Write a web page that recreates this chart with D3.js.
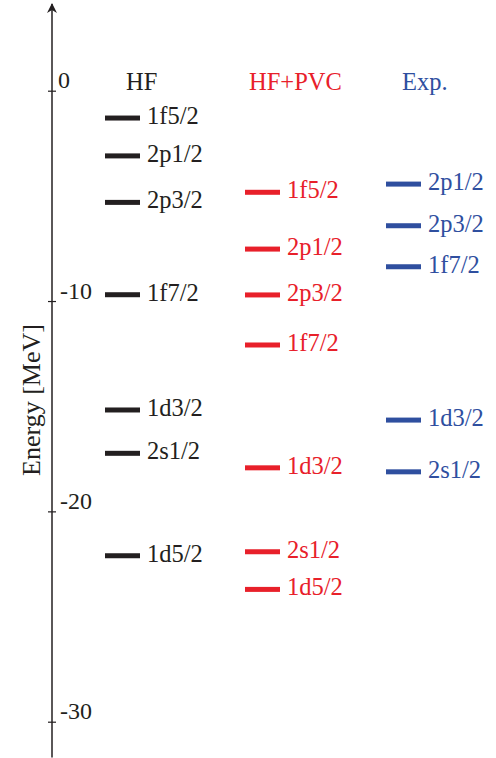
<!DOCTYPE html>
<html><head><meta charset="utf-8">
<script src="https://cdn.jsdelivr.net/npm/d3@7"></script>
<style>html,body{margin:0;padding:0;background:#fff;}svg{display:block;}</style>
</head><body>
<script>
const columns = ["HF", "HF+PVC", "Exp."];
const columnColors = ["#231f20", "#e8202a", "#2f4f9f"];
const hfLevels = ["1f5/2","2p1/2","2p3/2","1f7/2","1d3/2","2s1/2","1d5/2"];
const hfEnergies = [-1.30,-3.10,-5.31,-9.70,-15.18,-17.24,-22.11];
const pvcLevels = ["1f5/2","2p1/2","2p3/2","1f7/2","1d3/2","2s1/2","1d5/2"];
const pvcEnergies = [-4.83,-7.53,-9.71,-12.09,-17.93,-21.92,-23.71];
const expLevels = ["2p1/2","2p3/2","1f7/2","1d3/2","2s1/2"];
const expEnergies = [-4.44,-6.42,-8.37,-15.66,-18.12];
const yTicks = [0,-10,-20,-30];
const yLabel = "Energy [MeV]";

const W = 496, H = 758;
const svg = d3.select("body").append("svg").attr("width", W).attr("height", H);
const font = "'Liberation Serif','Times New Roman',serif";

const y = d3.scaleLinear().domain([0,-30]).range([90.7,721.7]);
const axisX = 52;
const barX = {"HF":105, "HF+PVC":245, "Exp.":386};
const barW = 35;

// axis line with arrow
svg.append("defs").append("marker").attr("id","arr").attr("viewBox","0 0 10 10")
  .attr("refX",9).attr("refY",5).attr("markerWidth",10).attr("markerHeight",10)
  .attr("markerUnits","userSpaceOnUse").attr("orient","auto")
  .append("path").attr("d","M0,0 L10,5 L0,10 L3,5 Z").attr("fill","#231f20");
svg.append("line").attr("x1",axisX).attr("x2",axisX).attr("y1",y(-31.7)).attr("y2",4)
  .attr("stroke","#231f20").attr("stroke-width",1.5).attr("marker-end","url(#arr)");

const ax = d3.axisRight(y).tickValues(yTicks).tickSize(0).tickFormat(d => String(d));
const g = svg.append("g").attr("transform",`translate(${axisX},0)`).call(ax);
g.select(".domain").remove();
g.selectAll(".tick line").attr("x1",-4).attr("x2",4).attr("stroke","#231f20").attr("stroke-width",1.2);
g.selectAll(".tick text").attr("x",d=> d===0 ? 6 : 8).attr("y",0).attr("dy","-0.12em")
  .attr("font-family",font).attr("font-size",24).attr("fill","#231f20")
  .attr("text-anchor","start");

// y label
svg.append("text").attr("transform",`translate(40,400) rotate(-90)`)
  .attr("text-anchor","middle").attr("font-family",font).attr("font-size",26)
  .attr("fill","#231f20").text(yLabel);

// headers
const headerX = {"HF":126, "HF+PVC":249, "Exp.":402};
columns.forEach((c,i)=>{
  svg.append("text").attr("x",headerX[c]).attr("y",90).attr("font-family",font)
    .attr("font-size",24.5).attr("fill",columnColors[i]).text(c);
});

const datasets = [
  {col:"HF", levels:hfLevels, energies:hfEnergies},
  {col:"HF+PVC", levels:pvcLevels, energies:pvcEnergies},
  {col:"Exp.", levels:expLevels, energies:expEnergies}
];
datasets.forEach((ds,i)=>{
  const data = ds.levels.map((l,j)=>({l, e:ds.energies[j]}));
  const gg = svg.append("g");
  gg.selectAll("rect").data(data).join("rect")
    .attr("x",barX[ds.col]).attr("width",barW)
    .attr("y",d=>y(d.e)-2.5).attr("height",5).attr("fill",columnColors[i]);
  gg.selectAll("text").data(data).join("text")
    .attr("x",barX[ds.col]+barW+7).attr("y",d=>y(d.e)+6)
    .attr("font-family",font).attr("font-size",24.5).attr("fill",columnColors[i])
    .text(d=>d.l);
});
</script>
</body></html>
